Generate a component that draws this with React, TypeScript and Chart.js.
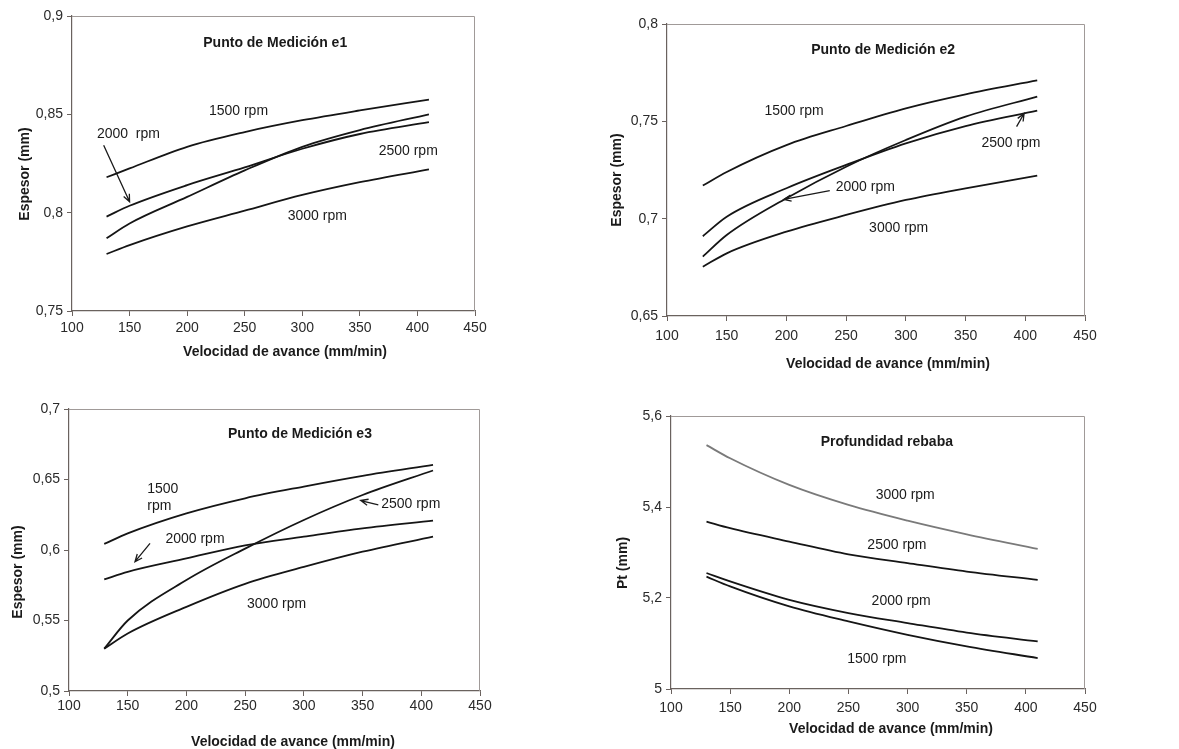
import React, { useEffect, useRef } from "react";
import { Chart, registerables } from "chart.js";

Chart.register(...registerables);

const FONT = "'Liberation Sans', Arial, sans-serif";

// ---------- data ----------
const feedRates = [130, 150, 200, 250, 300, 350, 410]; // mm/min

// Punto de Medición e1
const e1_1500 = [0.818, 0.8225, 0.8335, 0.841, 0.847, 0.852, 0.8575];
const e1_2000 = [0.798, 0.8035, 0.814, 0.823, 0.8325, 0.84, 0.846];
const e1_2500 = [0.787, 0.7945, 0.808, 0.8215, 0.8335, 0.842, 0.85];
const e1_3000 = [0.779, 0.7835, 0.793, 0.801, 0.809, 0.8155, 0.822];

// Punto de Medición e2
const e2_1500 = [0.717, 0.724, 0.7378, 0.7476, 0.7567, 0.7639, 0.771];
const e2_2000 = [0.6805, 0.6916, 0.7105, 0.7267, 0.7404, 0.7524, 0.7627];
const e2_2500 = [0.691, 0.701, 0.7156, 0.7276, 0.7387, 0.7476, 0.7555];
const e2_3000 = [0.6753, 0.6822, 0.6933, 0.7019, 0.7096, 0.7156, 0.7221];

// Punto de Medición e3
const e3_1500 = [0.6043, 0.6118, 0.626, 0.6367, 0.645, 0.6526, 0.6604];
const e3_2000 = [0.5791, 0.5845, 0.594, 0.6033, 0.6095, 0.6154, 0.6209];
const e3_2500 = [0.53, 0.55, 0.5787, 0.601, 0.6213, 0.639, 0.6564];
const e3_3000 = [0.53, 0.5408, 0.5597, 0.576, 0.588, 0.5988, 0.6095];

// Profundidad rebaba (Pt)
const pt_1500 = [5.247, 5.2254, 5.1815, 5.1485, 5.119, 5.0937, 5.068];
const pt_2000 = [5.255, 5.2364, 5.196, 5.167, 5.145, 5.124, 5.1046];
const pt_2500 = [5.368, 5.3534, 5.324, 5.296, 5.2766, 5.258, 5.24];
const pt_3000 = [5.536, 5.507, 5.4485, 5.4046, 5.37, 5.34, 5.308];

const xMin = 100;
const xMax = 450;
const xStep = 50;

const xTitle = "Velocidad de avance (mm/min)";

// ---------- panels ----------
type Note = { text: string; x: number; y: number; bold?: boolean };
type Arrow = { x1: number; y1: number; x2: number; y2: number };
type Series = { values: number[]; color: string };
type PanelCfg = {
  box: { l: number; t: number; w: number; h: number };
  area: { left: number; top: number; right: number; bottom: number };
  yMin: number;
  yMax: number;
  yStep: number;
  series: Series[];
  notes: Note[];
  arrows: Arrow[];
  yTitle: string;
  xTitlePos: [number, number];
  yTitlePos: [number, number];
  xTickPad: number;
};

const BLACK = "#151515";

const panels: PanelCfg[] = [
  {
    box: { l: 0, t: 0, w: 575, h: 370 },
    area: { left: 72, top: 16, right: 475, bottom: 311 },
    yMin: 0.75, yMax: 0.9, yStep: 0.05,
    series: [
      { values: e1_1500, color: BLACK },
      { values: e1_2000, color: BLACK },
      { values: e1_2500, color: BLACK },
      { values: e1_3000, color: BLACK },
    ],
    notes: [
      { text: "Punto de Medición e1", x: 276.5, y: 0.886, bold: true },
      { text: "1500 rpm", x: 244.6, y: 0.8516 },
      { text: "2000  rpm", x: 149, y: 0.8397 },
      { text: "2500 rpm", x: 392, y: 0.8314 },
      { text: "3000 rpm", x: 313, y: 0.7983 },
    ],
    arrows: [{ x1: 127.5, y1: 0.8343, x2: 150, y2: 0.8055 }],
    yTitle: "Espesor (mm)",
    xTitlePos: [285, 352],
    yTitlePos: [25, 174],
    xTickPad: 4,
  },
  {
    box: { l: 585, t: 0, w: 594, h: 375 },
    area: { left: 667, top: 24, right: 1085, bottom: 316 },
    yMin: 0.65, yMax: 0.8, yStep: 0.05,
    series: [
      { values: e2_1500, color: BLACK },
      { values: e2_2000, color: BLACK },
      { values: e2_2500, color: BLACK },
      { values: e2_3000, color: BLACK },
    ],
    notes: [
      { text: "Punto de Medición e2", x: 281, y: 0.7866, bold: true },
      { text: "1500 rpm", x: 206.4, y: 0.7553 },
      { text: "2500 rpm", x: 388, y: 0.739 },
      { text: "2000 rpm", x: 266, y: 0.7161 },
      { text: "3000 rpm", x: 294, y: 0.695 },
    ],
    arrows: [
      { x1: 392.7, y1: 0.7473, x2: 399, y2: 0.754 },
      { x1: 236.3, y1: 0.7144, x2: 197.8, y2: 0.7099 },
    ],
    yTitle: "Espesor (mm)",
    xTitlePos: [888, 364],
    yTitlePos: [617, 180],
    xTickPad: 7,
  },
  {
    box: { l: 0, t: 375, w: 575, h: 374 },
    area: { left: 69, top: 409, right: 480, bottom: 691 },
    yMin: 0.5, yMax: 0.7, yStep: 0.05,
    series: [
      { values: e3_1500, color: BLACK },
      { values: e3_2000, color: BLACK },
      { values: e3_2500, color: BLACK },
      { values: e3_3000, color: BLACK },
    ],
    notes: [
      { text: "Punto de Medición e3", x: 296.7, y: 0.6822, bold: true },
      { text: "1500", x: 179.8, y: 0.6431 },
      { text: "rpm", x: 177, y: 0.6308 },
      { text: "2000 rpm", x: 207.3, y: 0.6078 },
      { text: "2500 rpm", x: 391, y: 0.6325 },
      { text: "3000 rpm", x: 276.8, y: 0.5614 },
    ],
    arrows: [
      { x1: 169, y1: 0.6047, x2: 156.2, y2: 0.5917 },
      { x1: 363.4, y1: 0.632, x2: 348.4, y2: 0.6351 },
    ],
    yTitle: "Espesor (mm)",
    xTitlePos: [293, 742],
    yTitlePos: [18, 572],
    xTickPad: 2,
  },
  {
    box: { l: 585, t: 375, w: 594, h: 374 },
    area: { left: 671, top: 416, right: 1085, bottom: 689 },
    yMin: 5, yMax: 5.6, yStep: 0.2,
    series: [
      { values: pt_3000, color: "#7a7a7a" },
      { values: pt_2500, color: BLACK },
      { values: pt_2000, color: BLACK },
      { values: pt_1500, color: BLACK },
    ],
    notes: [
      { text: "Profundidad rebaba", x: 282.5, y: 5.5415, bold: true },
      { text: "3000 rpm", x: 298, y: 5.425 },
      { text: "2500 rpm", x: 291, y: 5.3154 },
      { text: "2000 rpm", x: 294.6, y: 5.1925 },
      { text: "1500 rpm", x: 274, y: 5.066 },
    ],
    arrows: [],
    yTitle: "Pt (mm)",
    xTitlePos: [891, 729],
    yTitlePos: [623, 563],
    xTickPad: 6,
  },
];

const fmt = (v: number) => String(Math.round(v * 1000) / 1000).replace(".", ",");

const notesPlugin = {
  id: "notes",
  afterDraw(chart: any, _args: any, opts: any) {
    const ctx: CanvasRenderingContext2D = chart.ctx;
    const { left, top, right, bottom } = chart.chartArea;
    const xs = chart.scales.x;
    const ys = chart.scales.y;
    ctx.save();
    // frame (top and right edges)
    ctx.strokeStyle = "#a09a98";
    ctx.lineWidth = 1;
    ctx.beginPath();
    ctx.moveTo(left, top + 0.5);
    ctx.lineTo(right - 0.5, top + 0.5);
    ctx.lineTo(right - 0.5, bottom);
    ctx.stroke();

    ctx.fillStyle = "#1a1a1a";
    ctx.textAlign = "center";
    ctx.textBaseline = "middle";
    for (const n of opts.notes as Note[]) {
      ctx.font = `${n.bold ? "bold " : ""}14px ${FONT}`;
      ctx.fillText(n.text, xs.getPixelForValue(n.x), ys.getPixelForValue(n.y));
    }
    ctx.strokeStyle = "#1a1a1a";
    ctx.lineWidth = 1.3;
    for (const a of opts.arrows as Arrow[]) {
      const x1 = xs.getPixelForValue(a.x1);
      const y1 = ys.getPixelForValue(a.y1);
      const x2 = xs.getPixelForValue(a.x2);
      const y2 = ys.getPixelForValue(a.y2);
      const ang = Math.atan2(y2 - y1, x2 - x1);
      const hl = 8;
      ctx.beginPath();
      ctx.moveTo(x1, y1);
      ctx.lineTo(x2, y2);
      ctx.moveTo(x2 - hl * Math.cos(ang - 0.4), y2 - hl * Math.sin(ang - 0.4));
      ctx.lineTo(x2, y2);
      ctx.lineTo(x2 - hl * Math.cos(ang + 0.4), y2 - hl * Math.sin(ang + 0.4));
      ctx.stroke();
    }
    // axis titles
    ctx.font = `bold 14px ${FONT}`;
    ctx.fillText(opts.xTitle, opts.xTitlePos[0], opts.xTitlePos[1]);
    ctx.translate(opts.yTitlePos[0], opts.yTitlePos[1]);
    ctx.rotate(-Math.PI / 2);
    ctx.fillText(opts.yTitle, 0, 0);
    ctx.restore();
  },
};

function Panel({ cfg }: { cfg: PanelCfg }) {
  const ref = useRef<HTMLCanvasElement>(null);
  useEffect(() => {
    const { box, area } = cfg;
    const yw = area.left - box.l;
    const padTop = area.top - box.t;
    const padRight = box.l + box.w - area.right;
    const xh = box.t + box.h - area.bottom;
    const chart = new Chart(ref.current as HTMLCanvasElement, {
      type: "line",
      data: {
        datasets: cfg.series.map((s) => ({
          data: feedRates.map((x, i) => ({ x, y: s.values[i] })),
          borderColor: s.color,
          borderWidth: 1.8,
          pointRadius: 0,
          fill: false,
          cubicInterpolationMode: "monotone" as const,
        })),
      },
      options: {
        responsive: false,
        animation: false,
        layout: { autoPadding: false, padding: { left: 0, top: padTop, right: padRight, bottom: 0 } },
        plugins: {
          legend: { display: false },
          tooltip: { enabled: false },
          notes: {
            notes: cfg.notes,
            arrows: cfg.arrows,
            xTitle,
            yTitle: cfg.yTitle,
            xTitlePos: [cfg.xTitlePos[0] - box.l, cfg.xTitlePos[1] - box.t],
            yTitlePos: [cfg.yTitlePos[0] - box.l, cfg.yTitlePos[1] - box.t],
          },
        } as any,
        scales: {
          x: {
            type: "linear",
            min: xMin,
            max: xMax,
            afterFit: (s: any) => {
              s.height = xh;
            },
            ticks: {
              stepSize: xStep,
              color: "#2a2a2a",
              font: { family: FONT, size: 14 },
              padding: cfg.xTickPad,
              maxRotation: 0,
              callback: (v: any) => String(v),
            },
            grid: { display: true, drawOnChartArea: false, drawTicks: true, tickLength: 5, color: "#6a625e" },
            border: { display: true, color: "#6a625e", width: 1.2 },
          },
          y: {
            type: "linear",
            min: cfg.yMin,
            max: cfg.yMax,
            afterFit: (s: any) => {
              s.width = yw;
            },
            ticks: {
              stepSize: cfg.yStep,
              color: "#2a2a2a",
              font: { family: FONT, size: 14 },
              padding: 4,
              callback: (v: any) => fmt(Number(v)),
            },
            grid: { display: true, drawOnChartArea: false, drawTicks: true, tickLength: 5, color: "#6a625e" },
            border: { display: true, color: "#6a625e", width: 1.2 },
          },
        },
      },
      plugins: [notesPlugin],
    });
    return () => chart.destroy();
  }, [cfg]);
  return (
    <canvas
      ref={ref}
      width={cfg.box.w}
      height={cfg.box.h}
      style={{ position: "absolute", left: cfg.box.l, top: cfg.box.t, width: cfg.box.w, height: cfg.box.h }}
    />
  );
}

export default function App() {
  return (
    <div style={{ position: "absolute", left: 0, top: 0, width: 1179, height: 749, background: "#fff", overflow: "hidden" }}>
      {panels.map((p, i) => (
        <Panel key={i} cfg={p} />
      ))}
    </div>
  );
}
